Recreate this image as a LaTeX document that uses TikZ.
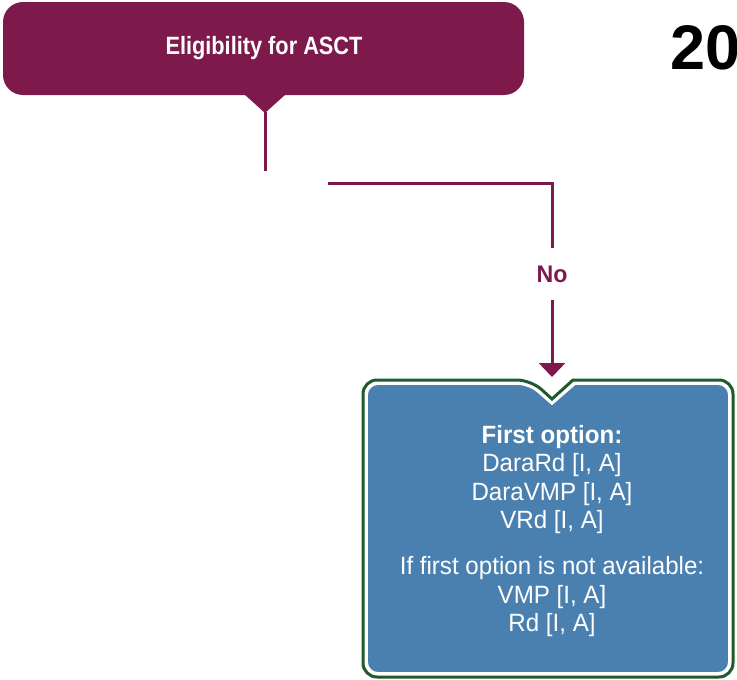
\documentclass[tikz,border=0pt]{standalone}
\usepackage{fontspec}
\setmainfont{Liberation Sans}[FakeStretch=0.87]
\newfontfamily\boxfont{Liberation Sans}[FakeStretch=0.965]
\newfontfamily\yearfont{Liberation Sans}
\usetikzlibrary{arrows.meta}
\definecolor{maroon}{HTML}{7D1A4B}
\definecolor{boxblue}{HTML}{4A80AF}
\definecolor{boxgreen}{HTML}{1F5A2C}
\tikzset{
  conn/.style={draw=maroon, line width=3pt},
  whitetxt/.style={text=white, align=center, inner sep=0pt},
}
\begin{document}
\begin{tikzpicture}[x=1pt,y=-1pt]
\useasboundingbox (0,0) rectangle (737,680);
% top box
\fill[maroon, rounded corners=20pt] (3,2) rectangle (524,95);
\fill[maroon] (244,94) -- (265,113) -- (286,94) -- cycle;
\node[whitetxt, font=\bfseries\fontsize{25}{28}\selectfont] (elig) at (264,48) {Eligibility for ASCT};
\coordinate (eligtip) at (265,112);
\coordinate (eligend) at (265,171);
\draw[conn] (eligtip) -- (eligend);
% "20"
\node[font=\yearfont\bfseries\fontsize{63}{63}\selectfont, anchor=west, inner sep=0pt] (yr) at (670,48) {20};
% No branch
\coordinate (nostart) at (328,183);
\coordinate (nocorner) at (552,183);
\coordinate (noabove) at (552,248);
\coordinate (nobelow) at (552,300);
\node[text=maroon, font=\boxfont\bfseries\fontsize{24}{26}\selectfont, inner sep=0pt] (no) at (552,274) {No};
\draw[conn] (nostart) -- (nocorner) -- (noabove);
\coordinate (arrowtip) at (552,377);
\draw[conn, -{Triangle[width=26pt,length=14pt]}] (nobelow) -- (arrowtip);
% bottom box
\draw[boxgreen, line width=3pt, fill=white, rounded corners=14pt]
  (363,380) -- (531,380) [sharp corners] -- (552,399) -- (573,380) [rounded corners=14pt] -- (733,380) -- (733,677) -- (363,677) -- cycle;
\draw[white, line width=1.8pt, fill=boxblue, rounded corners=11pt]
  (367,384) -- (529,384) [sharp corners] -- (552,404) -- (575,384) [rounded corners=11pt] -- (729,384) -- (729,673) -- (367,673) -- cycle;
\node[whitetxt, font=\boxfont\fontsize{25}{28.3}\selectfont] (opt) at (552,531) {\textbf{First option:}\\DaraRd [I, A]\\DaraVMP [I, A]\\VRd [I, A]\\[18pt]If first option is not available:\\VMP [I, A]\\Rd [I, A]};
\end{tikzpicture}
\end{document}
